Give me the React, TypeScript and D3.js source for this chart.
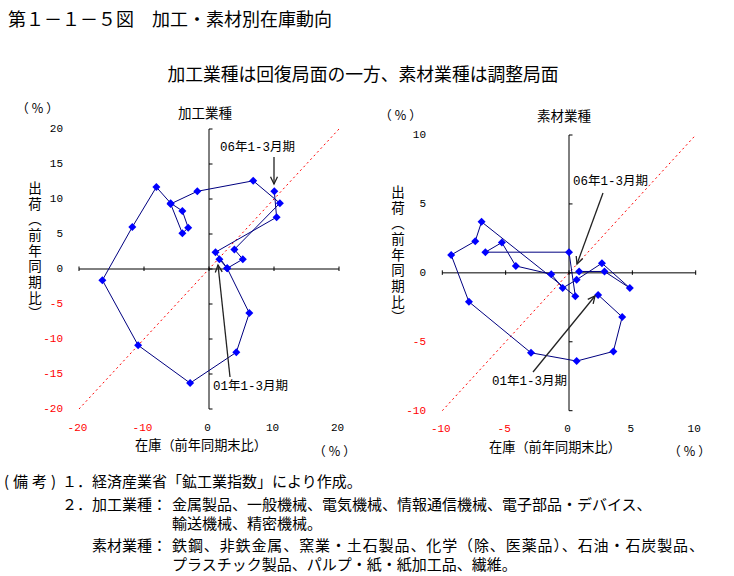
import React from "react";
import * as d3 from "d3";

const W = 734;
const H = 576;

// 加工業種: inventory (x) and shipments (y), % y/y, in drawing order
const procInventory = [1.6, 2.8, 6.2, 4.2, -2.9, -10.9, -16.4, -11.8, -8.1, -5.9, -4.1, -3.2, -4.1, -5.9, -1.8, 6.8, 10.9, 3.9, 5.2, 2.8, 1.0, 10.4, 10.05];
const procShipments = [1.4, 0.1, -6.3, -11.9, -16.3, -10.9, -1.6, 6.0, 11.7, 9.4, 8.3, 5.9, 5.1, 9.3, 11.1, 12.6, 9.4, 2.8, 1.4, 0.1, 2.4, 7.4, 11.1];

// 素材業種
const matInventory = [2.3, 4.2, 3.5, 0.6, -3.0, -7.9, -9.3, -7.4, -6.9, 0.5, 0.0, -6.6, -5.3, -4.2, -1.4, -0.5, 0.6, 2.6, 4.8, 2.8, 0.8];
const matShipments = [-1.6, -3.2, -5.7, -6.4, -5.8, -2.1, 1.3, 2.3, 3.7, -1.7, 1.5, 1.5, 2.2, 0.5, -0.1, -1.1, -0.5, 0.7, -1.1, 0.1, 0.1];

const procYTicks = [20, 15, 10, 5, 0, -5, -10, -15, -20];
const procXTicks = [-20, -10, 0, 10, 20];
const matYTicks = [10, 5, 0, -5, -10];
const matXTicks = [-10, -5, 0, 5, 10];

const title = "第１－１－５図　加工・素材別在庫動向";
const subtitle = "加工業種は回復局面の一方、素材業種は調整局面";
const yTitle = "出荷（前年同期比）";
const xTitle = "在庫（前年同期末比）";
const startLabel = "01年1-3月期";
const endLabel = "06年1-3月期";

const JP = "'Noto Sans CJK JP', sans-serif";
const MONO = "'Liberation Mono', 'Noto Sans CJK JP', monospace";

type PanelCfg = {
  name: string;
  inv: number[];
  ship: number[];
  domain: [number, number];
  xRange: [number, number];
  yRange: [number, number];
  xTicks: number[];
  yTicks: number[];
  yLabelX: number;
  xLabelY: number;
  nameX: number;
  nameY: number;
  pctTop: [number, number];
  pctBottom: [number, number];
  yTitleX: number;
  yTitleY: number;
  xTitlePos: [number, number];
  endText: [number, number];
  endArrow: [number, number, number, number];
  startText: [number, number];
  startArrow: [number, number, number, number];
};

function Arrow({ a }: { a: [number, number, number, number] }) {
  const [x1, y1, x2, y2] = a;
  const ang = Math.atan2(y2 - y1, x2 - x1);
  const L = 8;
  const s = 0.45;
  const p1 = [x2 - L * Math.cos(ang - s), y2 - L * Math.sin(ang - s)];
  const p2 = [x2 - L * Math.cos(ang + s), y2 - L * Math.sin(ang + s)];
  return (
    <g stroke="#222" fill="none" strokeWidth={1.3}>
      <line x1={x1} y1={y1} x2={x2} y2={y2} />
      <polyline points={`${p1[0]},${p1[1]} ${x2},${y2} ${p2[0]},${p2[1]}`} />
    </g>
  );
}

function Panel({ c }: { c: PanelCfg }) {
  const x = d3.scaleLinear().domain(c.domain).range(c.xRange);
  const y = d3.scaleLinear().domain(c.domain).range(c.yRange);
  const idx = c.inv.map((_, i) => i);
  const line = d3
    .line<number>()
    .x((i) => x(c.inv[i]))
    .y((i) => y(c.ship[i]));
  const diamond = "M0,-4L4,0L0,4L-4,0Z";
  const [d0, d1] = c.domain;
  return (
    <g>
      <text x={c.nameX} y={c.nameY} fontSize={13.5} fontFamily={JP} textAnchor="middle" dominantBaseline="central">{c.name}</text>
      <text x={c.pctTop[0]} y={c.pctTop[1]} fontSize={12.5} fontFamily={JP} textAnchor="middle" dominantBaseline="central" letterSpacing={3}>（%）</text>
      <text x={c.pctBottom[0]} y={c.pctBottom[1]} fontSize={12.5} fontFamily={JP} textAnchor="middle" dominantBaseline="central" letterSpacing={3}>（%）</text>
      <text
        x={c.yTitleX}
        y={c.yTitleY}
        fontSize={13.5}
        fontFamily={JP}
        letterSpacing={2.2}
        style={{ writingMode: "vertical-rl" as any }}
      >
        {yTitle}
      </text>
      <text x={c.xTitlePos[0]} y={c.xTitlePos[1]} fontSize={13.2} fontFamily={JP} textAnchor="middle" dominantBaseline="central">{xTitle}</text>
      {/* diagonal 45-degree reference */}
      <line x1={x(d0)} y1={y(d0)} x2={x(d1)} y2={y(d1)} stroke="#ff0000" strokeWidth={1} strokeDasharray="2,3" />
      {/* axes */}
      <line x1={x(d0)} y1={y(0)} x2={x(d1)} y2={y(0)} stroke="#000" strokeWidth={1} />
      <line x1={x(0)} y1={y(d0)} x2={x(0)} y2={y(d1)} stroke="#000" strokeWidth={1} />
      {c.xTicks.map((t) => (
        <g key={"x" + t}>
          <line x1={x(t)} x2={x(t)} y1={y(0) - 2.5} y2={y(0) + 2} stroke="#000" />
          <text x={x(t) - 1.5} y={c.xLabelY} fontSize={11} fontFamily={MONO} textAnchor="middle" dominantBaseline="central" fill={t < 0 ? "#ff0000" : "#000"}>{t}</text>
        </g>
      ))}
      {c.yTicks.map((t) => (
        <g key={"y" + t}>
          <line x1={x(0)} x2={x(0) + 3.5} y1={y(t)} y2={y(t)} stroke="#000" />
          <text x={c.yLabelX} y={y(t)} fontSize={11} fontFamily={MONO} textAnchor="end" dominantBaseline="central" fill={t < 0 ? "#ff0000" : "#000"}>{t}</text>
        </g>
      ))}
      <path d={line(idx) || ""} fill="none" stroke="#000080" strokeWidth={1} />
      {idx.map((i) => (
        <path key={i} d={diamond} transform={`translate(${x(c.inv[i])},${y(c.ship[i])})`} fill="#0000ff" />
      ))}
      <text x={c.endText[0]} y={c.endText[1]} fontSize={12.5} fontFamily={MONO} dominantBaseline="central">{endLabel}</text>
      <Arrow a={c.endArrow} />
      <text x={c.startText[0]} y={c.startText[1]} fontSize={12.5} fontFamily={MONO} dominantBaseline="central">{startLabel}</text>
      <Arrow a={c.startArrow} />
    </g>
  );
}

const procCfg: PanelCfg = {
  name: "加工業種",
  inv: procInventory,
  ship: procShipments,
  domain: [-20, 20],
  xRange: [79, 339],
  yRange: [409, 129],
  xTicks: procXTicks,
  yTicks: procYTicks,
  yLabelX: 63,
  xLabelY: 428,
  nameX: 205,
  nameY: 112,
  pctTop: [39, 107],
  pctBottom: [336, 450],
  yTitleX: 35,
  yTitleY: 181,
  xTitlePos: [201, 444],
  endText: [220, 148],
  endArrow: [274, 157, 274, 184],
  startText: [213, 387],
  startArrow: [230, 377, 218, 265],
};

const matCfg: PanelCfg = {
  name: "素材業種",
  inv: matInventory,
  ship: matShipments,
  domain: [-10, 10],
  xRange: [442.3, 695.7],
  yRange: [410.7, 135],
  xTicks: matXTicks,
  yTicks: matYTicks,
  yLabelX: 426,
  xLabelY: 429,
  nameX: 564,
  nameY: 115,
  pctTop: [402, 114],
  pctBottom: [691, 450],
  yTitleX: 398,
  yTitleY: 185,
  xTitlePos: [555, 446],
  endText: [573, 182],
  endArrow: [603, 193, 577, 264],
  startText: [492, 382],
  startArrow: [533, 372, 595, 296],
};

const notes: { t: string; x: number; y: number; len?: number }[] = [
  { t: "(備考)", x: 4, y: 480, len: 52 },
  { t: "１．", x: 62, y: 480 },
  { t: "経済産業省「鉱工業指数」により作成。", x: 92, y: 480 },
  { t: "２．", x: 62, y: 503 },
  { t: "加工業種：", x: 92, y: 503 },
  { t: "金属製品、一般機械、電気機械、情報通信機械、電子部品・デバイス、", x: 172, y: 503 },
  { t: "輸送機械、精密機械。", x: 172, y: 522 },
  { t: "素材業種：", x: 92, y: 544 },
  { t: "鉄鋼、非鉄金属、窯業・土石製品、化学（除、医薬品）、石油・石炭製品、", x: 172, y: 544, len: 532 },
  { t: "プラスチック製品、パルプ・紙・紙加工品、繊維。", x: 172, y: 563 },
];

export default function App() {
  return (
    <div style={{ position: "absolute", left: 0, top: 0, width: W, height: H, background: "#fff" }}>
      <svg width={W} height={H} viewBox={`0 0 ${W} ${H}`}>
        <rect width={W} height={H} fill="#fff" />
        <text x={8} y={18} fontSize={18} fontFamily={JP} dominantBaseline="central">{title}</text>
        <text x={363} y={73} fontSize={17.8} fontFamily={JP} textAnchor="middle" dominantBaseline="central">{subtitle}</text>
        <Panel c={procCfg} />
        <Panel c={matCfg} />
        {notes.map((n, i) => (
          <text
            key={i}
            x={n.x}
            y={n.y}
            fontSize={15}
            fontFamily={JP}
            dominantBaseline="central"
            textLength={n.len}
            lengthAdjust={n.len ? "spacing" : undefined}
          >
            {n.t}
          </text>
        ))}
      </svg>
    </div>
  );
}
